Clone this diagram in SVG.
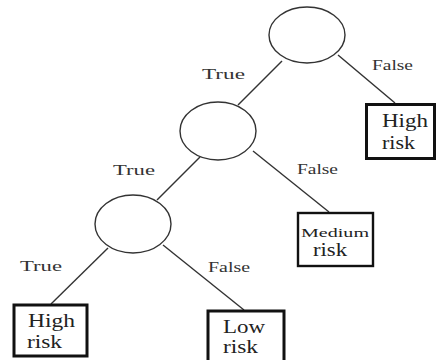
<svg xmlns="http://www.w3.org/2000/svg" width="436" height="360" viewBox="0 0 436 360">
<style>
.c{fill:#fff;stroke:#333;stroke-width:1.4}
.b{fill:#fff;stroke:#111;stroke-width:3}
.e{stroke:#333;stroke-width:1.4;fill:none}
.l{font-family:"Liberation Serif",serif;font-size:15px;fill:#333}
.t{font-family:"Liberation Serif",serif;font-size:18px;fill:#222}
</style>
<rect width="436" height="360" fill="#fff"/>
<g id="connectors">
<line class="e" x1="282" y1="61" x2="238" y2="105"/>
<line class="e" x1="338" y1="55" x2="395" y2="103"/>
<line class="e" x1="200" y1="157" x2="157" y2="200"/>
<line class="e" x1="253" y1="151" x2="329" y2="212"/>
<line class="e" x1="108" y1="248" x2="51" y2="304"/>
<line class="e" x1="163" y1="245" x2="244" y2="310"/>
<text class="l" x="202" y="79" textLength="43" lengthAdjust="spacingAndGlyphs">True</text>
<text class="l" x="372" y="70" textLength="41" lengthAdjust="spacingAndGlyphs">False</text>
<text class="l" x="113" y="175" textLength="42" lengthAdjust="spacingAndGlyphs">True</text>
<text class="l" x="297" y="174" textLength="41" lengthAdjust="spacingAndGlyphs">False</text>
<text class="l" x="20" y="271" textLength="42" lengthAdjust="spacingAndGlyphs">True</text>
<text class="l" x="208" y="272" textLength="42" lengthAdjust="spacingAndGlyphs">False</text>
</g>
<g id="n1"><ellipse class="c" cx="307" cy="35" rx="38" ry="28"/></g>
<g id="n2"><ellipse class="c" cx="218" cy="131" rx="38" ry="29"/></g>
<g id="n3"><ellipse class="c" cx="133" cy="224" rx="38" ry="29"/></g>
<g id="leaf-high-top">
<rect class="b" x="366.5" y="104.5" width="68" height="54"/>
<text class="t" x="382" y="127" textLength="46" lengthAdjust="spacingAndGlyphs">High</text>
<text class="t" x="382" y="149" textLength="33" lengthAdjust="spacingAndGlyphs">risk</text>
</g>
<g id="leaf-medium">
<rect class="b" x="298" y="213" width="75" height="53" style="stroke-width:2.4"/>
<text class="t" x="301" y="237" style="font-size:13px" textLength="68" lengthAdjust="spacingAndGlyphs">Medium</text>
<text class="t" x="313" y="256" textLength="34" lengthAdjust="spacingAndGlyphs">risk</text>
</g>
<g id="leaf-high-bottom">
<rect class="b" x="14" y="305" width="73" height="51"/>
<text class="t" x="28" y="327" textLength="47" lengthAdjust="spacingAndGlyphs">High</text>
<text class="t" x="27" y="348" textLength="35" lengthAdjust="spacingAndGlyphs">risk</text>
</g>
<g id="leaf-low">
<rect class="b" x="208" y="311" width="76" height="60"/>
<text class="t" x="223" y="333" textLength="42" lengthAdjust="spacingAndGlyphs">Low</text>
<text class="t" x="223" y="353" textLength="35" lengthAdjust="spacingAndGlyphs">risk</text>
</g>
</svg>
